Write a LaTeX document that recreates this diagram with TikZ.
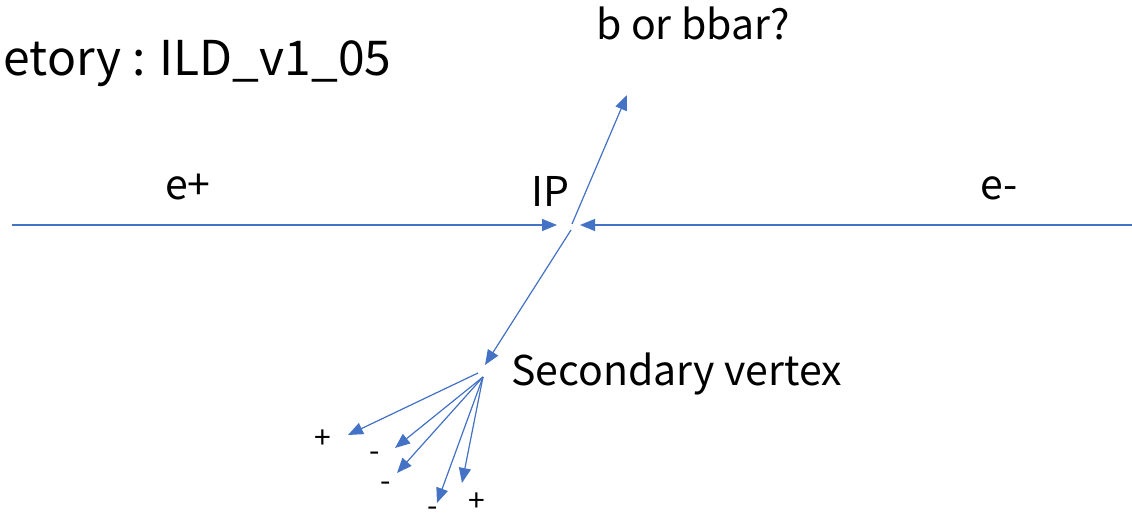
\documentclass[tikz,border=0pt]{standalone}
\usepackage{fontspec}
\setmainfont{Noto Sans CJK JP}
\usepackage{tikz}
\usetikzlibrary{arrows.meta}

\definecolor{trackblue}{HTML}{4472C4}

\begin{document}
\begin{tikzpicture}[
  x=0.5pt, y=-0.5pt,
  >={Triangle[length=7.5pt, width=6pt]},
  arr/.style={->, draw=trackblue, fill=trackblue, line width=0.6pt},
  biglbl/.style={inner sep=0pt, font=\fontsize{20.5}{24}\selectfont},
  chg/.style={inner sep=0pt, font=\fontsize{15}{17}\selectfont}
]
  \useasboundingbox (0,0) rectangle (1132,519);

  % labels
  \node[inner sep=0pt, anchor=base east, font=\fontsize{24}{28}\selectfont] (title) at (392,76) {etory : ILD\_v1\_05};
  \node[biglbl, anchor=base] (bq) at (693,40) {b or bbar?};
  \node[biglbl, anchor=base] (ep) at (188,200) {e+};
  \node[biglbl, anchor=base] (em) at (999,200) {e-};
  \node[biglbl, anchor=base] (iplbl) at (550,207) {IP};
  \node[biglbl, anchor=base west] (svlbl) at (511,386) {Secondary vertex};

  % beams and IP
  \coordinate (lbeam) at (12,225);
  \coordinate (rbeam) at (1132,225);
  \coordinate (ipl) at (557,225);
  \coordinate (ipr) at (580,225);
  \coordinate (ipup) at (572,224);
  \coordinate (ipdn) at (571,230);
  \coordinate (bend) at (627,95);
  \coordinate (sv) at (485,365);
  \draw[arr] (lbeam) -- (ipl);
  \draw[arr] (rbeam) -- (ipr);
  \draw[arr] (ipup) -- (bend);
  \draw[arr] (ipdn) -- (sv);

  % decay products
  \coordinate (sva) at (478,373);
  \coordinate (svb) at (483,377);
  \coordinate (d1) at (348,435);
  \coordinate (d2) at (395,448);
  \coordinate (d3) at (397,473);
  \coordinate (d4) at (437,503);
  \coordinate (d5) at (462,483);
  \draw[arr] (sva) -- (d1);
  \draw[arr] (svb) -- (d2);
  \draw[arr] (svb) -- (d3);
  \draw[arr] (svb) -- (d4);
  \draw[arr] (svb) -- (d5);

  \node[chg] (q1) at (323,439) {+};
  \node[chg] (q2) at (375,457) {-};
  \node[chg] (q3) at (386,487) {-};
  \node[chg] (q4) at (433,512) {-};
  \node[chg] (q5) at (477,502) {+};
\end{tikzpicture}
\end{document}
